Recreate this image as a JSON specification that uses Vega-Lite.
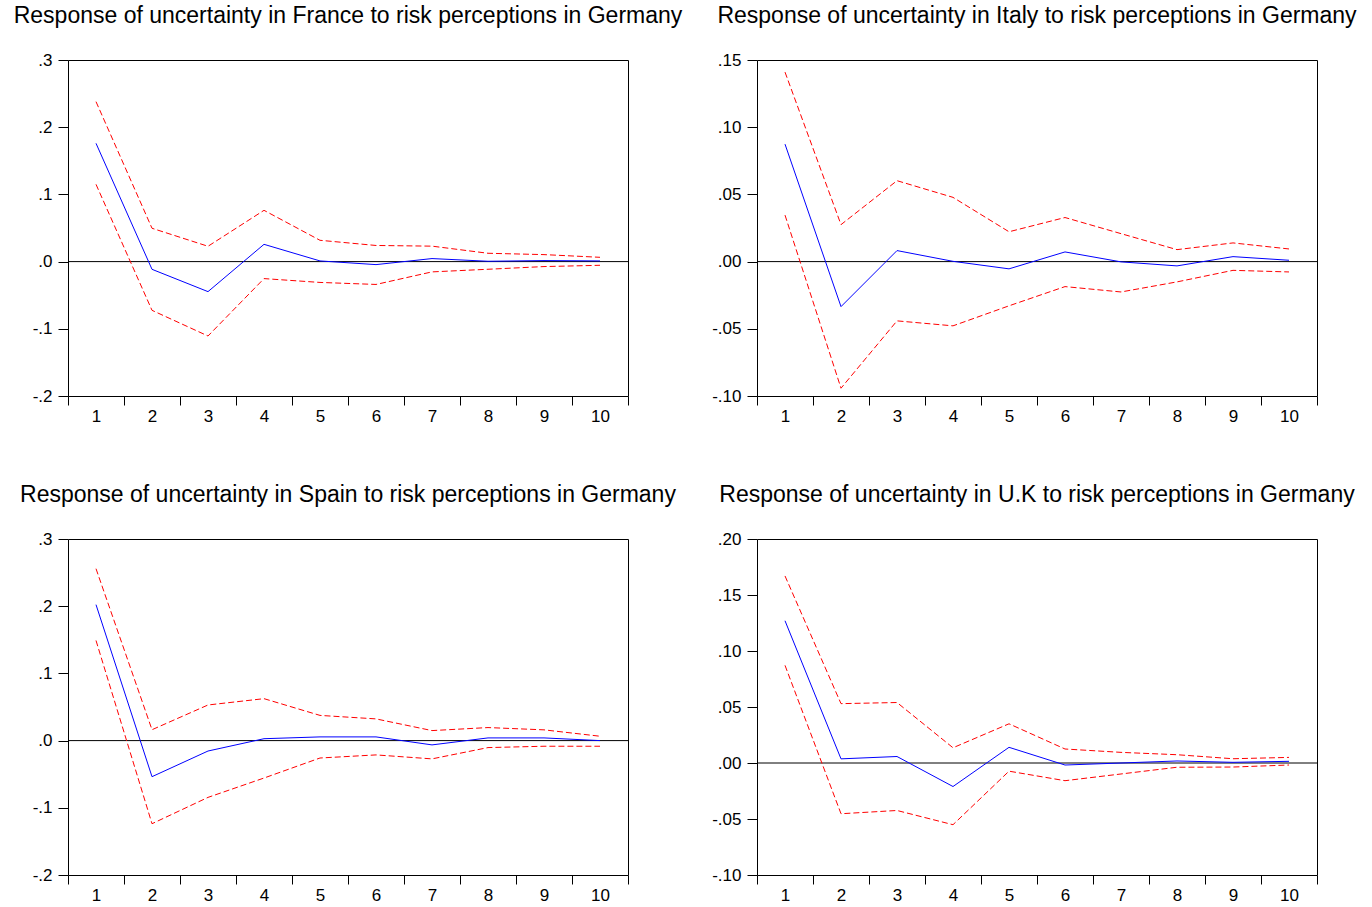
{
  "$schema": "https://vega.github.io/schema/vega-lite/v6.json",
  "background": "white",
  "padding": {"left": 13, "top": 4, "right": 0, "bottom": 0},
  "datasets": {
    "d": [
      {"p": "FR", "h": 1, "irf": 0.176, "lo": 0.115, "hi": 0.238},
      {"p": "FR", "h": 2, "irf": -0.0115, "lo": -0.0725, "hi": 0.0496},
      {"p": "FR", "h": 3, "irf": -0.0447, "lo": -0.1107, "hi": 0.0228},
      {"p": "FR", "h": 4, "irf": 0.0257, "lo": -0.0253, "hi": 0.0763},
      {"p": "FR", "h": 5, "irf": 0.001, "lo": -0.031, "hi": 0.0317},
      {"p": "FR", "h": 6, "irf": -0.0045, "lo": -0.034, "hi": 0.024},
      {"p": "FR", "h": 7, "irf": 0.0045, "lo": -0.0153, "hi": 0.023},
      {"p": "FR", "h": 8, "irf": 0.0005, "lo": -0.0114, "hi": 0.0124},
      {"p": "FR", "h": 9, "irf": 0.0015, "lo": -0.0074, "hi": 0.0104},
      {"p": "FR", "h": 10, "irf": 0.001, "lo": -0.0055, "hi": 0.0064},
      {"p": "IT", "h": 1, "irf": 0.0874, "lo": 0.0346, "hi": 0.141},
      {"p": "IT", "h": 2, "irf": -0.0335, "lo": -0.0942, "hi": 0.0275},
      {"p": "IT", "h": 3, "irf": 0.0082, "lo": -0.0441, "hi": 0.0602},
      {"p": "IT", "h": 4, "irf": 0.0002, "lo": -0.0478, "hi": 0.0478},
      {"p": "IT", "h": 5, "irf": -0.0054, "lo": -0.0329, "hi": 0.0222},
      {"p": "IT", "h": 6, "irf": 0.0072, "lo": -0.0186, "hi": 0.0328},
      {"p": "IT", "h": 7, "irf": -0.0002, "lo": -0.0226, "hi": 0.0208},
      {"p": "IT", "h": 8, "irf": -0.0032, "lo": -0.0151, "hi": 0.0089},
      {"p": "IT", "h": 9, "irf": 0.0037, "lo": -0.0065, "hi": 0.0139},
      {"p": "IT", "h": 10, "irf": 0.001, "lo": -0.0077, "hi": 0.0094},
      {"p": "ES", "h": 1, "irf": 0.2023, "lo": 0.149, "hi": 0.2558},
      {"p": "ES", "h": 2, "irf": -0.0537, "lo": -0.1237, "hi": 0.0162},
      {"p": "ES", "h": 3, "irf": -0.0155, "lo": -0.0845, "hi": 0.053},
      {"p": "ES", "h": 4, "irf": 0.0028, "lo": -0.0557, "hi": 0.0624},
      {"p": "ES", "h": 5, "irf": 0.0055, "lo": -0.0259, "hi": 0.0375},
      {"p": "ES", "h": 6, "irf": 0.0055, "lo": -0.0213, "hi": 0.0323},
      {"p": "ES", "h": 7, "irf": -0.0064, "lo": -0.0272, "hi": 0.0149},
      {"p": "ES", "h": 8, "irf": 0.004, "lo": -0.0104, "hi": 0.0194},
      {"p": "ES", "h": 9, "irf": 0.004, "lo": -0.0084, "hi": 0.016},
      {"p": "ES", "h": 10, "irf": 0.0, "lo": -0.0084, "hi": 0.0065},
      {"p": "UK", "h": 1, "irf": 0.127, "lo": 0.0872, "hi": 0.167},
      {"p": "UK", "h": 2, "irf": 0.0037, "lo": -0.0453, "hi": 0.053},
      {"p": "UK", "h": 3, "irf": 0.0058, "lo": -0.0424, "hi": 0.054},
      {"p": "UK", "h": 4, "irf": -0.021, "lo": -0.0551, "hi": 0.0136},
      {"p": "UK", "h": 5, "irf": 0.014, "lo": -0.0073, "hi": 0.035},
      {"p": "UK", "h": 6, "irf": -0.0018, "lo": -0.0158, "hi": 0.0125},
      {"p": "UK", "h": 7, "irf": 0.0, "lo": -0.0098, "hi": 0.0095},
      {"p": "UK", "h": 8, "irf": 0.0018, "lo": -0.0038, "hi": 0.0074},
      {"p": "UK", "h": 9, "irf": 0.0006, "lo": -0.0036, "hi": 0.0038},
      {"p": "UK", "h": 10, "irf": 0.0015, "lo": -0.0018, "hi": 0.005}
    ],
    "zero": [{"z": 0}]
  },
  "config": {
    "view": {"stroke": "#000", "strokeWidth": 1},
    "font": "Liberation Sans",
    "axis": {"domain": false, "grid": false, "tickColor": "#000", "tickWidth": 1, "labelColor": "#000", "labelFont": "Liberation Sans", "labelFontSize": 17, "labelFlush": false, "labelOverlap": false},
    "axisY": {"tickSize": 10, "labelPadding": 6},
    "axisX": {"tickSize": 9, "labelPadding": 3},
    "title": {"font": "Liberation Sans", "fontSize": 23, "fontWeight": "normal", "color": "#000", "anchor": "middle", "baseline": "alphabetic", "offset": 23}
  },
  "columns": 2,
  "spacing": {"row": 143, "column": 129},
  "bounds": "flush",
  "concat": [
    {
      "width": 560, "height": 336,
      "title": "Response of uncertainty in France to risk perceptions in Germany",
      "layer": [
        {"data": {"name": "zero"}, "mark": {"type": "rule", "color": "#000", "strokeWidth": 1},
         "encoding": {"y": {"field": "z", "type": "quantitative", "title": null, "scale": {"domain": [-0.2, 0.3], "nice": false, "zero": false}, "axis": {"values": [-0.2, -0.1, 0, 0.1, 0.2, 0.3], "labelExpr": "(datum.value < 0 ? '-' : '') + replace(format(abs(datum.value), '.1f'), '0.', '.')"}}}},
        {"data": {"name": "d"}, "transform": [{"filter": "datum.p === 'FR'"}], "mark": {"type": "line", "color": "#ff0000", "strokeWidth": 1, "strokeDash": [6, 3]},
         "encoding": {"x": {"field": "h", "type": "quantitative", "title": null, "scale": {"domain": [0.5, 10.5], "nice": false, "zero": false}, "axis": {"values": [0.5, 1.5, 2.5, 3.5, 4.5, 5.5, 6.5, 7.5, 8.5, 9.5, 10.5], "labelExpr": "datum.value < 10 ? format(datum.value + 0.5, 'd') : ''", "labelOffset": 28}}, "y": {"field": "hi", "type": "quantitative", "title": null}}},
        {"data": {"name": "d"}, "transform": [{"filter": "datum.p === 'FR'"}], "mark": {"type": "line", "color": "#ff0000", "strokeWidth": 1, "strokeDash": [6, 3]},
         "encoding": {"x": {"field": "h", "type": "quantitative", "title": null}, "y": {"field": "lo", "type": "quantitative", "title": null}}},
        {"data": {"name": "d"}, "transform": [{"filter": "datum.p === 'FR'"}], "mark": {"type": "line", "color": "#0000ff", "strokeWidth": 1},
         "encoding": {"x": {"field": "h", "type": "quantitative", "title": null}, "y": {"field": "irf", "type": "quantitative", "title": null}}}
      ]
    },
    {
      "width": 560, "height": 336,
      "title": "Response of uncertainty in Italy to risk perceptions in Germany",
      "layer": [
        {"data": {"name": "zero"}, "mark": {"type": "rule", "color": "#000", "strokeWidth": 1},
         "encoding": {"y": {"field": "z", "type": "quantitative", "title": null, "scale": {"domain": [-0.1, 0.15], "nice": false, "zero": false}, "axis": {"values": [-0.1, -0.05, 0, 0.05, 0.1, 0.15], "labelExpr": "(datum.value < 0 ? '-' : '') + replace(format(abs(datum.value), '.2f'), '0.', '.')"}}}},
        {"data": {"name": "d"}, "transform": [{"filter": "datum.p === 'IT'"}], "mark": {"type": "line", "color": "#ff0000", "strokeWidth": 1, "strokeDash": [6, 3]},
         "encoding": {"x": {"field": "h", "type": "quantitative", "title": null, "scale": {"domain": [0.5, 10.5], "nice": false, "zero": false}, "axis": {"values": [0.5, 1.5, 2.5, 3.5, 4.5, 5.5, 6.5, 7.5, 8.5, 9.5, 10.5], "labelExpr": "datum.value < 10 ? format(datum.value + 0.5, 'd') : ''", "labelOffset": 28}}, "y": {"field": "hi", "type": "quantitative", "title": null}}},
        {"data": {"name": "d"}, "transform": [{"filter": "datum.p === 'IT'"}], "mark": {"type": "line", "color": "#ff0000", "strokeWidth": 1, "strokeDash": [6, 3]},
         "encoding": {"x": {"field": "h", "type": "quantitative", "title": null}, "y": {"field": "lo", "type": "quantitative", "title": null}}},
        {"data": {"name": "d"}, "transform": [{"filter": "datum.p === 'IT'"}], "mark": {"type": "line", "color": "#0000ff", "strokeWidth": 1},
         "encoding": {"x": {"field": "h", "type": "quantitative", "title": null}, "y": {"field": "irf", "type": "quantitative", "title": null}}}
      ]
    },
    {
      "width": 560, "height": 336,
      "title": "Response of uncertainty in Spain to risk perceptions in Germany",
      "layer": [
        {"data": {"name": "zero"}, "mark": {"type": "rule", "color": "#000", "strokeWidth": 1},
         "encoding": {"y": {"field": "z", "type": "quantitative", "title": null, "scale": {"domain": [-0.2, 0.3], "nice": false, "zero": false}, "axis": {"values": [-0.2, -0.1, 0, 0.1, 0.2, 0.3], "labelExpr": "(datum.value < 0 ? '-' : '') + replace(format(abs(datum.value), '.1f'), '0.', '.')"}}}},
        {"data": {"name": "d"}, "transform": [{"filter": "datum.p === 'ES'"}], "mark": {"type": "line", "color": "#ff0000", "strokeWidth": 1, "strokeDash": [6, 3]},
         "encoding": {"x": {"field": "h", "type": "quantitative", "title": null, "scale": {"domain": [0.5, 10.5], "nice": false, "zero": false}, "axis": {"values": [0.5, 1.5, 2.5, 3.5, 4.5, 5.5, 6.5, 7.5, 8.5, 9.5, 10.5], "labelExpr": "datum.value < 10 ? format(datum.value + 0.5, 'd') : ''", "labelOffset": 28}}, "y": {"field": "hi", "type": "quantitative", "title": null}}},
        {"data": {"name": "d"}, "transform": [{"filter": "datum.p === 'ES'"}], "mark": {"type": "line", "color": "#ff0000", "strokeWidth": 1, "strokeDash": [6, 3]},
         "encoding": {"x": {"field": "h", "type": "quantitative", "title": null}, "y": {"field": "lo", "type": "quantitative", "title": null}}},
        {"data": {"name": "d"}, "transform": [{"filter": "datum.p === 'ES'"}], "mark": {"type": "line", "color": "#0000ff", "strokeWidth": 1},
         "encoding": {"x": {"field": "h", "type": "quantitative", "title": null}, "y": {"field": "irf", "type": "quantitative", "title": null}}}
      ]
    },
    {
      "width": 560, "height": 336,
      "title": "Response of uncertainty in U.K to risk perceptions in Germany",
      "layer": [
        {"data": {"name": "zero"}, "mark": {"type": "rule", "color": "#000", "strokeWidth": 1},
         "encoding": {"y": {"field": "z", "type": "quantitative", "title": null, "scale": {"domain": [-0.1, 0.2], "nice": false, "zero": false}, "axis": {"values": [-0.1, -0.05, 0, 0.05, 0.1, 0.15, 0.2], "labelExpr": "(datum.value < 0 ? '-' : '') + replace(format(abs(datum.value), '.2f'), '0.', '.')"}}}},
        {"data": {"name": "d"}, "transform": [{"filter": "datum.p === 'UK'"}], "mark": {"type": "line", "color": "#ff0000", "strokeWidth": 1, "strokeDash": [6, 3]},
         "encoding": {"x": {"field": "h", "type": "quantitative", "title": null, "scale": {"domain": [0.5, 10.5], "nice": false, "zero": false}, "axis": {"values": [0.5, 1.5, 2.5, 3.5, 4.5, 5.5, 6.5, 7.5, 8.5, 9.5, 10.5], "labelExpr": "datum.value < 10 ? format(datum.value + 0.5, 'd') : ''", "labelOffset": 28}}, "y": {"field": "hi", "type": "quantitative", "title": null}}},
        {"data": {"name": "d"}, "transform": [{"filter": "datum.p === 'UK'"}], "mark": {"type": "line", "color": "#ff0000", "strokeWidth": 1, "strokeDash": [6, 3]},
         "encoding": {"x": {"field": "h", "type": "quantitative", "title": null}, "y": {"field": "lo", "type": "quantitative", "title": null}}},
        {"data": {"name": "d"}, "transform": [{"filter": "datum.p === 'UK'"}], "mark": {"type": "line", "color": "#0000ff", "strokeWidth": 1},
         "encoding": {"x": {"field": "h", "type": "quantitative", "title": null}, "y": {"field": "irf", "type": "quantitative", "title": null}}}
      ]
    }
  ]
}
